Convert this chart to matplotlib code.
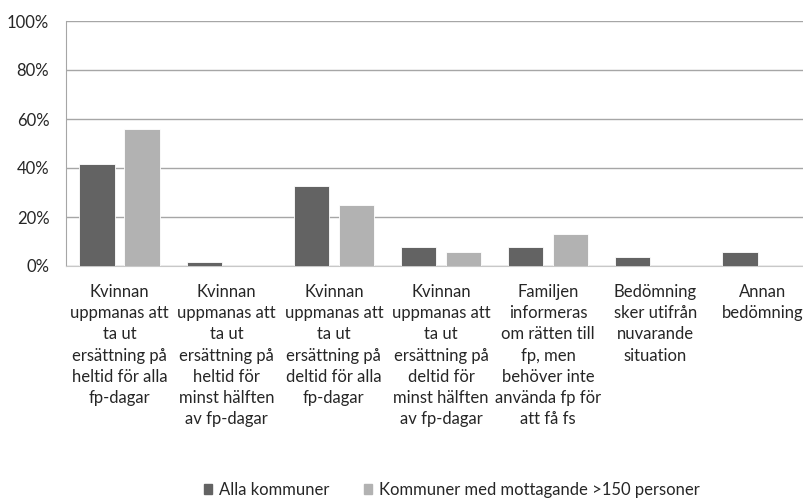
import matplotlib.pyplot as plt
from matplotlib.ticker import PercentFormatter
from matplotlib.patches import Patch
import numpy as np

categories = [
    "Kvinnan\nuppmanas att\nta ut\nersättning på\nheltid för alla\nfp-dagar",
    "Kvinnan\nuppmanas att\nta ut\nersättning på\nheltid för\nminst hälften\nav fp-dagar",
    "Kvinnan\nuppmanas att\nta ut\nersättning på\ndeltid för alla\nfp-dagar",
    "Kvinnan\nuppmanas att\nta ut\nersättning på\ndeltid för\nminst hälften\nav fp-dagar",
    "Familjen\ninformeras\nom rätten till\nfp, men\nbehöver inte\nanvända fp för\natt få fs",
    "Bedömning\nsker utifrån\nnuvarande\nsituation",
    "Annan\nbedömning",
]
alla = [41.5, 1.6, 32.6, 7.6, 7.6, 3.8, 5.6]
stora = [55.9, 0, 24.9, 5.8, 13.2, 0, 0]
series_names = ["Alla kommuner", "Kommuner med mottagande >150 personer"]

DARK = "#636363"
LIGHT = "#b2b2b2"
TXT = "#262626"
FS = 12
plt.rcParams['font.family'] = ['Lato', 'DejaVu Sans']

fig = plt.figure(figsize=(8.04, 5.0), dpi=100)
ax = fig.add_axes([66 / 804, 1 - 266 / 500, (816 - 66) / 804, 245 / 500])

x = np.arange(len(categories))
w = 0.33
ax.bar(x - 0.21, alla, w, color=DARK, edgecolor="white", linewidth=0.6, zorder=3)
ax.bar(x + 0.21, stora, w, color=LIGHT, edgecolor="white", linewidth=0.6, zorder=3)

ax.set_xlim(-0.5, len(categories) - 0.5)
ax.set_ylim(0, 100)
ax.set_yticks(range(0, 101, 20))
ax.yaxis.set_major_formatter(PercentFormatter(decimals=0))
ax.grid(axis="y", color="#a6a6a6", linewidth=1.0, zorder=0)
ax.set_axisbelow(True)
for s in ["top", "right"]:
    ax.spines[s].set_visible(False)
ax.spines["left"].set_color("#a6a6a6")
ax.spines["bottom"].set_color("#c8c8c8")
ax.tick_params(axis="both", length=0, labelsize=FS, colors=TXT)
ax.tick_params(axis="y", pad=12)
ax.set_xticks(x)
ax.set_xticklabels(categories, linespacing=1.4, fontsize=FS)
ax.tick_params(axis="x", pad=13)

handles = [Patch(color=DARK), Patch(color=LIGHT)]
fig.legend(handles, series_names, loc="lower center", bbox_to_anchor=(0.562, -0.026),
           ncol=2, frameon=False, fontsize=FS, handlelength=0.5, handleheight=0.5,
           handletextpad=0.4, labelcolor=TXT, columnspacing=2.1)

fig.savefig("out.png", dpi=100)
